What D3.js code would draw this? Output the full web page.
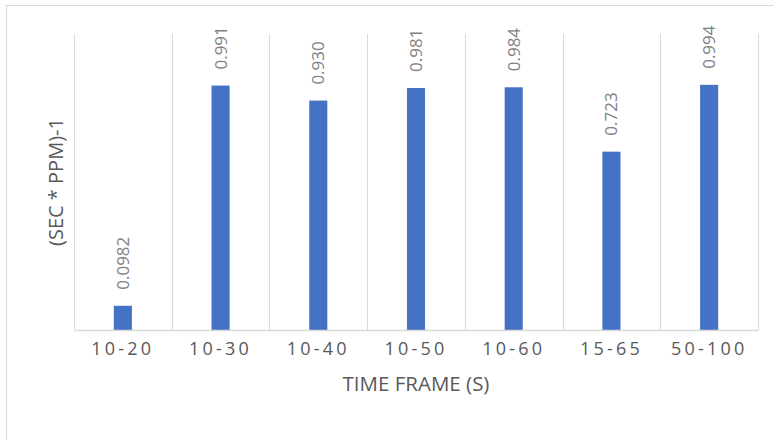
<!DOCTYPE html>
<html><head><meta charset="utf-8">
<script src="https://cdn.jsdelivr.net/npm/d3@7"></script>
<style>html,body{margin:0;padding:0;background:#fff;}svg{display:block;}</style>
</head><body>
<script>
const categories = ["10-20","10-30","10-40","10-50","10-60","15-65","50-100"];
const values = [0.0982, 0.991, 0.930, 0.981, 0.984, 0.723, 0.994];
const labels = ["0.0982","0.991","0.930","0.981","0.984","0.723","0.994"];
const yDomain = [0, 1.2];
const xTitle = "TIME FRAME (S)";
const yTitle = "(SEC * PPM)-1";

const W = 774, H = 440;
const m = {left: 74, right: 16, top: 34, bottom: 110};
const svg = d3.select("body").append("svg").attr("width", W).attr("height", H);

// outer chart border
svg.append("rect").attr("x", 6.5).attr("y", 5.5).attr("width", 900).attr("height", 600)
  .attr("fill", "none").attr("stroke", "#d9d9d9").attr("stroke-width", 1);

const x = d3.scaleBand().domain(categories).range([m.left, W - m.right]).padding(0);
const y = d3.scaleLinear().domain(yDomain).range([H - m.bottom, m.top]);
const barW = x.step() * 0.185;

// vertical gridlines at category boundaries
const bounds = categories.map(c => x(c)).concat([x(categories[categories.length-1]) + x.step()]);
svg.append("g").selectAll("line").data(bounds).join("line")
  .attr("x1", d => Math.round(d) + 0.5).attr("x2", d => Math.round(d) + 0.5)
  .attr("y1", y(yDomain[1])).attr("y2", y(0))
  .attr("stroke", "#d9d9d9").attr("stroke-width", 1);

// bars
svg.append("g").selectAll("rect").data(values).join("rect")
  .attr("x", (d, i) => x(categories[i]) + x.step() / 2 - barW / 2)
  .attr("width", barW)
  .attr("y", d => y(d))
  .attr("height", d => y(0) - y(d))
  .attr("fill", "#4472c4");

// x axis
const xAxis = svg.append("g").attr("transform", `translate(0,${y(0)})`)
  .call(d3.axisBottom(x).tickSize(0).tickPadding(12));
xAxis.select(".domain").attr("stroke", "#d9d9d9").attr("stroke-width", 1.5);
xAxis.selectAll("text").attr("font-family", "'Open Sans', sans-serif").attr("font-size", 18)
  .attr("fill", "#595959").attr("letter-spacing", "3.2px").attr("dy", "0.71em");

// data labels
svg.append("g").selectAll("text").data(values).join("text")
  .attr("transform", (d, i) => `translate(${x(categories[i]) + x.step() / 2 + 6},${y(d) - 16}) rotate(-90)`)
  .attr("text-anchor", "start")
  .attr("font-family", "'Open Sans', sans-serif").attr("font-size", 17)
  .attr("fill", "#7f7f7f")
  .text((d, i) => labels[i]);

// axis titles
svg.append("text").attr("x", (m.left + W - m.right) / 2).attr("y", 391)
  .attr("text-anchor", "middle").attr("font-family", "'Open Sans', sans-serif")
  .attr("font-size", 20.5).attr("fill", "#595959").text(xTitle);
svg.append("text").attr("transform", `translate(63,${(m.top + H - m.bottom) / 2}) rotate(-90)`)
  .attr("text-anchor", "middle").attr("font-family", "'Open Sans', sans-serif")
  .attr("font-size", 20).attr("fill", "#595959").text(yTitle);
</script>
</body></html>
